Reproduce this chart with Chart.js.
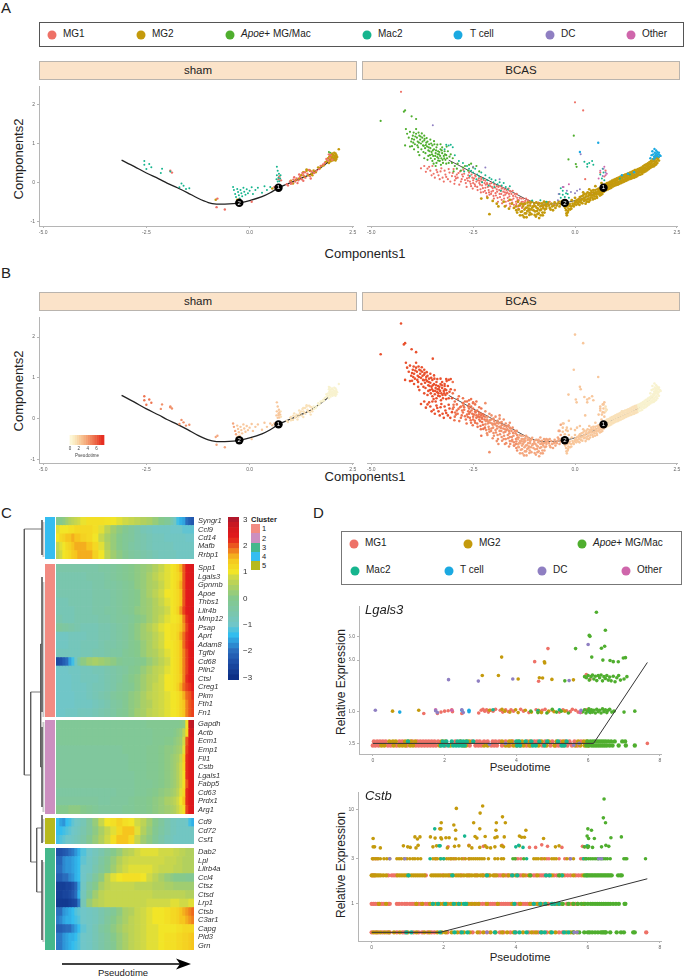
<!DOCTYPE html>
<html>
<head>
<meta charset="utf-8">
<script src="https://cdn.jsdelivr.net/npm/chart.js@4/dist/chart.umd.min.js"></script>
<style>
  html, body { margin: 0; padding: 0; background: #fff; }
  body { position: relative; width: 685px; height: 978px; overflow: hidden; font-family: "Liberation Sans", Arial, sans-serif; color: #222; }
  canvas { position: absolute; }
  .t { position: absolute; white-space: nowrap; line-height: 1; }
  .c { transform: translate(-50%, -50%); }
  .v { transform: translate(-50%, -50%) rotate(-90deg); }
  .strip { position: absolute; background: #fbe3c9; border: 1px solid #b9b4ae; box-sizing: border-box; text-align: center; font-size: 11.5px; }
  .box { position: absolute; border: 1px solid #555; box-sizing: border-box; }
  .dot { position: absolute; width: 9px; height: 9px; border-radius: 50%; transform: translate(-50%, -50%); }
  .side { position: absolute; left: 45px; width: 9.5px; }
  .sw { position: absolute; left: 251px; width: 9px; height: 9.3px; }
</style>
</head>
<body>
<div class="t" style="left:1px;top:0px;font-size:15px">A</div>
<div class="t" style="left:1px;top:265px;font-size:15px">B</div>
<div class="t" style="left:1px;top:505px;font-size:15px">C</div>
<div class="t" style="left:313px;top:505px;font-size:15px">D</div>
<div id="legendA" class="box" style="left:39px;top:22px;width:645px;height:25px"></div>
<div id="legendD" class="box" style="left:341px;top:531px;width:341px;height:54px;border-color:#777"></div>
<div class="strip" style="left:39px;top:61px;width:318px;height:19px;line-height:17px">sham</div>
<div class="strip" style="left:362px;top:61px;width:318px;height:19px;line-height:17px">BCAS</div>
<div class="strip" style="left:39px;top:292px;width:318px;height:19px;line-height:17px">sham</div>
<div class="strip" style="left:362px;top:292px;width:318px;height:19px;line-height:17px">BCAS</div>
<div class="t v" style="left:18px;top:159px;font-size:13px">Components2</div>
<div class="t c" style="left:365px;top:253px;font-size:13px">Components1</div>
<div class="t v" style="left:18px;top:391px;font-size:13px">Components2</div>
<div class="t c" style="left:365px;top:476px;font-size:13px">Components1</div>
<div class="t v" style="left:341px;top:682px;font-size:12px">Relative Expression</div>
<div class="t c" style="left:520px;top:768px;font-size:11.5px">Pseudotime</div>
<div class="t v" style="left:341px;top:865px;font-size:12px">Relative Expression</div>
<div class="t c" style="left:520px;top:958px;font-size:11.5px">Pseudotime</div>
<div class="t" style="left:365px;top:603px;font-size:13px;font-style:italic;z-index:3">Lgals3</div>
<div class="t" style="left:365px;top:789px;font-size:13px;font-style:italic;z-index:3">Cstb</div>
<div class="t" style="left:251px;top:516px;font-size:7.5px;font-weight:bold">Cluster</div>
<div class="sw" style="top:524px;background:#f28b82"></div><div class="t" style="left:262px;top:525px;font-size:7.5px">1</div>
<div class="sw" style="top:533.3px;background:#cc8fc0"></div><div class="t" style="left:262px;top:534.5px;font-size:7.5px">2</div>
<div class="sw" style="top:542.6px;background:#45b88c"></div><div class="t" style="left:262px;top:543.5px;font-size:7.5px">3</div>
<div class="sw" style="top:551.9px;background:#35bdf0"></div><div class="t" style="left:262px;top:553px;font-size:7.5px">4</div>
<div class="sw" style="top:561.2px;background:#b7b91c"></div><div class="t" style="left:262px;top:562px;font-size:7.5px">5</div>
<div class="side" style="top:517px;height:42.3px;background:#35bdf0"></div>
<div class="side" style="top:563.7px;height:153px;background:#f28b82"></div>
<div class="side" style="top:720.3px;height:93.7px;background:#cc8fc0"></div>
<div class="side" style="top:818.3px;height:25.7px;background:#b7b91c"></div>
<div class="side" style="top:848px;height:102px;background:#45b88c"></div>
<svg style="position:absolute;left:55px;top:955px" width="145" height="16"><line x1="7" y1="9" x2="125" y2="9" stroke="#000" stroke-width="1.4"/><path d="M121 3.5 L136 9 L121 14.5 L125 9 Z" fill="#000"/></svg>
<div class="t c" style="left:123px;top:973px;font-size:9.5px">Pseudotime</div>

<canvas id="aSham" style="left:29px;top:82px" width="329" height="154"></canvas>
<canvas id="aBcas" style="left:363px;top:82px" width="319" height="154"></canvas>
<canvas id="bSham" style="left:29px;top:313px" width="329" height="160"></canvas>
<canvas id="bBcas" style="left:363px;top:313px" width="319" height="160"></canvas>
<canvas id="pseudoLegend" style="left:66px;top:435px;z-index:2" width="42" height="23"></canvas>
<canvas id="dendro" style="left:20px;top:517px" width="25" height="433"></canvas>
<canvas id="heat4" style="left:56px;top:517px" width="183" height="42"></canvas>
<canvas id="heat1" style="left:56px;top:564px" width="183" height="153"></canvas>
<canvas id="heat2" style="left:56px;top:720px" width="183" height="94"></canvas>
<canvas id="heat5" style="left:56px;top:818px" width="183" height="26"></canvas>
<canvas id="heat3" style="left:56px;top:848px" width="183" height="102"></canvas>
<canvas id="colorBar" style="left:228px;top:517px" width="24" height="163"></canvas>
<canvas id="lgals3" style="left:349px;top:602px" width="316" height="162"></canvas>
<canvas id="cstb" style="left:348px;top:788px" width="317" height="163"></canvas>

<script>
// --- legend and colours ---
const typeNames = ['MG1', 'MG2', '<i>Apoe</i>+ MG/Mac', 'Mac2', 'T cell', 'DC', 'Other'];
const typeColors = ['#ee7167', '#c49a0c', '#4fae2e', '#16b58e', '#1ba9e1', '#8f7fc2', '#cf66ab'];

// --- trajectory (components 1 and 2) ---
const trajX = [-3.1, -2.8, -2.5, -2.2, -2, -1.75, -1.5, -1.25, -1, -.8, -.6, -.4, -.25, 0, .3, .5, .7, .9, 1.2, 1.5, 1.75, 1.9];
const trajY = [.57, .41, .24, .09, -.02, -.14, -.27, -.41, -.52, -.56, -.56, -.55, -.53, -.47, -.37, -.27, -.14, -.05, .08, .22, .4, .52];
const nodeX = [.7, -.25];
const nodeY = [-.14, -.53];
const nodeLabels = ['1', '2'];
const compXTicks = [-5, -2.5, 0, 2.5];
const compYTicks = [-1, 0, 1, 2];

// --- sham cells ---
const shamMac2 = [[-2.55,.55],[-2.55,.45],[-2.43,.47],[-2.38,.39],[-2.5,.34],[-2.12,.35],[-2.15,.24],[-1.92,.28],[-1.65,-.03],[-1.6,-.09],[-1.7,-.13],[-1.54,-.17],[-1.46,-.15],[-.4,-.12],[-.38,-.2],[-.35,-.3],[-.33,-.38],[-.3,-.17],[-.28,-.25],[-.26,-.33],[-.24,-.42],[-.22,-.2],[-.2,-.28],[-.18,-.36],[-.15,-.14],[-.13,-.24],[-.1,-.32],[-.07,-.18],[-.04,-.28],[0,-.22],[.05,-.13],[.08,-.3],[.14,-.2],[.2,-.14],[.3,-.27],[.36,-.1],[.42,-.2],[.5,-.12],[.66,.4],[.68,.3],[.71,.22],[.66,.18],[.7,.12],[.74,.1],[.65,.08],[.72,.03],[.68,.02],[.75,.18]];
const shamMG1 = [[-1.92,.3],[-1.88,.25],[-.78,-.42],[-.8,-.64],[-.6,-.7],[-.25,-.43],[.05,-.5],[.6,-.12],[.72,.15],[.7,.08],[.76,.05],[.9,-.05],[.93,-.08],[.98,.02],[1.02,-.02],[1.06,.07],[1.1,.02],[1.14,.1],[1.18,.05],[1.22,.14],[1.26,.08],[1.3,.18],[1.35,.12],[1.4,.22],[1.46,.16],[1.5,.28],[1.56,.24],[1.62,.3],[1.68,.34],[1.72,.42],[1.78,.46],[1.82,.5],[1.86,.6],[1.9,.56],[1.94,.63],[1.96,.7],[2,.58],[1.92,.72],[1.2,.2],[1.28,.24],[1.34,.26],[1.44,.32],[1.08,.13],[1.0,-.04],[1.16,-.02],[1.3,.04],[1.48,.1]];
const shamMG2 = [[-.82,-.45],[-.3,-.45],[.55,-.16],[1,.04],[1.05,-.03],[1.12,.06],[1.2,.1],[1.25,.18],[1.32,.15],[1.38,.3],[1.42,.18],[1.5,.22],[1.55,.3],[1.6,.26],[1.66,.38],[1.7,.36],[1.75,.42],[1.8,.44],[1.84,.52],[1.88,.55],[1.9,.62],[1.92,.5],[1.94,.58],[1.96,.54],[1.97,.64],[1.98,.6],[1.99,.72],[2,.66],[2.01,.56],[2.02,.62],[2.03,.7],[2.04,.64],[2.05,.58],[2.06,.68],[2.07,.62],[2.08,.74],[2.09,.66],[2.1,.6],[2.1,.7],[2.05,.76],[2,.74],[1.95,.68],[2.12,.65],[1.93,.66],[2.08,.56],[2.16,.85],[1.38,.33],[1.46,.3],[1.52,.18],[1.3,.26]];
const shamApoe = [[1.95,.76],[1.92,.78]];

// --- BCAS cells ---
const bcasApoe = [[-4.77,1.58],[-4.2,1.82],[-4.17,1.85],[-4.01,1.7],[-3.9,1.63],[-4.15,1.37],[-3.9,1.37],[-4.17,.95],[-4,.93],[-4.12,1.25],[-4.08,1.15],[-4.05,1.3],[-4.02,1.05],[-3.98,1.2],[-3.95,1.1],[-3.93,.98],[-3.9,1.25],[-3.88,1.15],[-3.86,1.05],[-3.85,.9],[-3.82,1.2],[-3.8,1.1],[-3.78,1],[-3.77,.85],[-3.75,1.15],[-3.73,.95],[-3.7,1.08],[-3.68,.88],[-3.67,.75],[-3.65,1.02],[-3.63,.92],[-3.6,.82],[-3.58,.98],[-3.56,.7],[-3.55,.88],[-3.52,.78],[-3.5,.95],[-3.48,.68],[-3.46,.85],[-3.44,.6],[-3.42,.75],[-3.4,.9],[-3.38,.65],[-3.36,.8],[-3.34,.72],[-3.32,.55],[-3.3,.85],[-3.28,.62],[-3.26,.75],[-3.24,.5],[-3.22,.68],[-3.2,.8],[-3.18,.58],[-3.16,.7],[-3.14,.62],[-3.1,.5],[-3.05,.72],[-3,.62],[-3.42,.42],[-3.5,.55],[-3.62,.58],[-3.7,.62],[-3.55,1.1],[-3.7,1.2],[-3.85,.78],[-3.95,.85],[-4.05,.92],[-3.6,.68],[-3.4,.5],[-3.3,.98],[-3.15,.92],[-4,1.12],[-3.97,1.02],[-3.92,1.18],[-3.87,.95],[-3.83,1.02],[-3.79,1.18],[-3.74,1.05],[-3.71,.94],[-3.69,1.12],[-3.66,.96],[-3.62,1.05],[-3.59,.9],[-3.57,.8],[-3.53,1],[-3.51,.72],[-3.49,.82],[-3.45,.98],[-3.43,.68],[-3.41,.82],[-3.37,.72],[-3.35,.62],[-3.33,.78],[-3.31,.68],[-3.27,.82],[-3.25,.58],[-3.21,.62],[-3.19,.72],[-2.6,.45],[-2.55,.48],[-2.5,.38],[-2.42,.42],[-2.35,.28],[-2.8,.3],[-2.7,.42],[-2.9,.35],[-.16,.59],[-.03,1.2],[.04,.4],[.02,.47],[-3.96,1.28],[-3.84,1.28],[-3.76,1.26],[-3.64,1.14],[-3.46,1.06],[-3.38,.97],[-3.26,.9],[-3.12,.8],[-3.08,.66],[-3.72,.78],[-3.82,.7],[-3.54,.62],[-3.47,.48],[-3.36,.56],[-3.29,.45],[-3.16,.48],[-3.02,.5],[-2.95,.42],[-2.98,.28],[-2.88,.48],[-2.75,.38],[-2.62,.3]];
const bcasMac2 = [[-3.16,.97],[-3.1,.95],[-3.05,.97],[-3,.9],[-3.2,.85],[-2.95,.7],[-2.85,.55],[-2.75,.5],[-2.65,.42],[-2.6,.35],[-2.55,.3],[-2.5,.25],[-2.45,.35],[-2.4,.2],[-2.35,.15],[-2.3,.25],[-2.25,.1],[-2.2,.18],[-2.15,.05],[-2.1,.12],[-2.05,.08],[-2,0],[-1.95,.05],[-1.9,-.05],[-1.85,0],[-1.8,-.08],[-1.75,-.02],[-1.7,-.12],[-1.65,-.18],[-1.6,-.1],[-.35,-.4],[-.3,-.32],[-.3,-.22],[-.25,-.38],[-.22,-.28],[-.18,-.3],[-.15,-.4],[-.35,-.15],[-.38,-.3],[.23,.53],[.3,.47],[.35,.5],[.42,.55],[.45,.45],[.3,.4],[.62,.2],[.68,.35],[.7,.25],[.66,.1],[.72,.05],[-1.05,-.47],[-.85,-.46],[-.7,-.5],[1.1,.1],[1.35,.2],[-2.72,.28],[-2.58,.16],[-2.42,.08],[-2.28,.0],[-2.12,-.08],[-1.98,-.12],[-1.82,-.22]];
const bcasMG1 = [[-4.27,2.33],[0,2.06],[.2,1.85],[-3.7,.42],[-3.62,.35],[-3.55,.3],[-3.5,.42],[-3.47,.22],[-3.4,.32],[-3.35,.18],[-3.3,.28],[-3.25,.12],[-3.2,.3],[-3.18,.2],[-3.12,.08],[-3.08,.25],[-3.02,.16],[-2.98,.34],[-2.95,.05],[-2.9,.2],[-2.88,.12],[-2.82,.28],[-2.8,.02],[-2.75,.15],[-2.72,.22],[-2.68,-.02],[-2.65,.1],[-2.62,.18],[-2.58,.02],[-2.55,-.1],[-2.52,.12],[-2.5,.05],[-2.46,-.05],[-2.44,.15],[-2.4,-.12],[-2.38,.05],[-2.35,-.02],[-2.32,-.18],[-2.3,.08],[-2.28,-.08],[-2.25,-.25],[-2.22,-.02],[-2.2,-.14],[-2.18,-.28],[-2.15,-.05],[-2.12,-.2],[-2.1,-.32],[-2.08,-.1],[-2.05,-.24],[-2.02,-.15],[-2,-.35],[-1.98,-.06],[-1.95,-.28],[-1.92,-.18],[-1.9,-.4],[-1.88,-.12],[-1.85,-.3],[-1.82,-.22],[-1.8,-.45],[-1.78,-.15],[-1.75,-.34],[-1.72,-.26],[-1.7,-.5],[-1.68,-.2],[-1.65,-.4],[-1.62,-.3],[-1.6,-.55],[-1.58,-.24],[-1.55,-.45],[-1.52,-.35],[-1.5,-.58],[-1.48,-.3],[-1.45,-.5],[-1.42,-.4],[-1.4,-.62],[-1.38,-.46],[-1.35,-.55],[-1.32,-.42],[-1.3,-.66],[-1.28,-.5],[-1.25,-.58],[-1.22,-.48],[-2.6,.25],[-2.45,.18],[-2.3,.12],[-2.2,.04],[-2.05,-.02],[-1.92,-.1],[-1.8,-.16],[-1.68,-.28],[-1.6,-.22],[-1.1,-.55],[-1,-.6],[-.9,-.52],[-.8,-.62],[-.62,-.5],[-.5,-.58],[.1,-.42],[.4,-.3],[.6,-.18],[.85,-.08],[1.05,-.03],[1.25,.06],[1.45,.14],[1.62,.28],[1.8,.38],[.72,.15],[.75,.3],[.62,.25],[.25,.08],
  [-3.78,.36],[-3.66,.27],[-3.58,.4],[-3.52,.18],[-3.44,.12],[-3.38,.26],[-3.32,.08],[-3.28,.36],[-3.22,.02],[-3.16,.14],[-3.1,.34],[-3.06,.02],[-3,.24],[-2.96,-.04],[-2.92,.1],[-2.86,.24],[-2.84,-.06],[-2.78,.08],[-2.74,.32],[-2.7,.06],[-2.66,-.12],[-2.63,.04],[-2.6,.12],[-2.56,-.04],[-2.54,.2],[-2.51,-.16],[-2.48,.1],[-2.45,-.1],[-2.42,.02],[-2.39,-.2],[-2.36,.1],[-2.33,-.06],[-2.31,-.26],[-2.29,.02],[-2.26,-.15],[-2.24,.06],[-2.21,-.22],[-2.19,-.06],[-2.16,-.36],[-2.14,-.12],[-2.11,-.26],[-2.09,-.04],[-2.06,-.3],[-2.04,-.12],[-2.01,-.22],[-1.99,-.42],[-1.96,-.14],[-1.94,-.34],[-1.91,-.24],[-1.89,-.5],[-1.86,-.2],[-1.84,-.38],[-1.81,-.3],[-1.79,-.54],[-1.76,-.24],[-1.74,-.42],[-1.71,-.32],[-1.69,-.6],[-1.66,-.26],[-1.64,-.48],[-1.61,-.36],[-1.59,-.62],[-1.56,-.3],[-1.54,-.52],[-1.51,-.42],[-1.49,-.66],[-1.46,-.36],[-1.44,-.56],[-1.41,-.46],[-1.39,-.68],[-1.36,-.4],[-1.34,-.6],[-1.31,-.5],[-1.27,-.42],[-1.24,-.52],[-1.2,-.42],[-1.16,-.46],[-1.12,-.5],[-2.94,.15],[-2.77,.2],[-2.5,-.02],[-2.34,.04],[-2.16,-.02],[-1.83,-.1],[-1.73,-.18],[-1.63,-.16],[-1.53,-.22],[-1.43,-.3]];
const bcasMG2 = [[-2.1,-.82],[-1.88,-.62],[-1.5,-.66],[-1.75,-.5],[-1.6,-.45],[-1.45,-.62],[-1.42,-.78],[-1.4,-.5],[-1.38,-.7],[-1.35,-.85],[-1.32,-.55],[-1.3,-.75],[-1.28,-.62],[-1.25,-.9],[-1.24,-.7],[-1.22,-.55],[-1.2,-.8],[-1.18,-.65],[-1.16,-.52],[-1.14,-.72],[-1.12,-.84],[-1.1,-.6],[-1.08,-.7],[-1.06,-.5],[-1.03,-.62],[-1,-.55],[-.98,-.75],[-.96,-.88],[-.94,-.66],[-.92,-.82],[-.9,-.58],[-.88,-.92],[-.86,-.72],[-.84,-.85],[-.82,-.6],[-.8,-.78],[-.78,-.66],[-.76,-.5],[-.74,-.7],[-.72,-.58],[-.7,-.62],[-.66,-.52],[-.62,-.66],[-.58,-.55],[-.54,-.72],[-.5,-.52],[-.45,-.6],[-.4,-.5],[-.35,-.56],[-.3,-.48],[-.26,-.62],[-.22,-.72],[-.2,-.85],[-.18,-.78],[-.16,-.68],[-.14,-.6],[-.12,-.7],[-.1,-.62],[-.06,-.55],[-.03,-.62],[0,-.52],[.03,-.58],[.06,-.45],[.08,-.56],[.1,-.5],[.12,-.38],[.15,-.52],[.17,-.44],[.2,-.34],[.22,-.48],[.24,-.4],[.26,-.55],[.28,-.3],[.3,-.44],[.32,-.36],[.34,-.5],[.36,-.28],[.38,-.4],[.4,-.22],[.42,-.34],[.44,-.44],[.46,-.26],[.48,-.36],[.5,-.2],[.52,-.3],[.54,-.4],[.56,-.24],[.58,-.16],[.6,-.28],[.62,-.2],[.64,-.32],[.66,-.14],[.68,-.24],[.7,-.18],[.72,-.1],[.74,-.16],[.76,-.09],[.78,-.13],[.8,-.06],[.82,-.12],[.84,-.05],[.86,-.1],[.88,-.02],[.9,-.08],[.92,-.01],[.94,-.05],[.96,.02],[.98,-.03],[1,.04],[1.02,-.01],[1.04,.06],[1.06,0],[1.08,.08],[1.1,.02],[1.12,.09],[1.14,.04],[1.16,.11],[1.18,.06],[1.2,.13],[1.22,.07],[1.24,.15],[1.26,.1],[1.28,.16],[1.3,.11],[1.32,.18],[1.34,.13],[1.36,.2],[1.38,.15],[1.4,.22],[1.42,.17],[1.44,.24],[1.46,.18],[1.48,.26],[1.5,.2],[1.52,.27],[1.54,.22],[1.56,.29],[1.58,.25],[1.6,.31],[1.62,.26],[1.64,.33],[1.66,.28],[1.68,.36],[1.7,.31],[1.72,.38],[1.74,.34],[1.76,.41],[1.78,.36],[1.8,.44],[1.82,.39],[1.84,.47],[1.86,.42],[1.88,.5],[1.9,.45],[1.92,.54],[1.94,.48],[1.95,.58],[1.97,.52],[1.98,.62],[2,.55],[2.01,.66],[2.03,.6],[2.05,.64],[2.06,.56],[1.99,.46],[1.93,.41],[.35,-.18],[.5,-.1],[.2,-.26],[0,-.4],[-.08,-.46],[.65,-.02],
  [-2.3,-.42],[-2.15,-.4],[-2.02,-.48],[-1.92,-.55],[-1.72,-.62],[-1.62,-.68],[-1.55,-.55],[-1.44,-.72],[-1.37,-.6],[-1.33,-.76],[-1.29,-.85],[-1.27,-.56],[-1.23,-.8],[-1.21,-.66],[-1.19,-.9],[-1.17,-.74],[-1.15,-.6],[-1.13,-.68],[-1.11,-.78],[-1.09,-.52],[-1.07,-.82],[-1.05,-.65],[-1.02,-.72],[-.99,-.84],[-.97,-.62],[-.95,-.52],[-.93,-.74],[-.91,-.68],[-.89,-.8],[-.87,-.54],[-.85,-.62],[-.83,-.7],[-.81,-.54],[-.79,-.85],[-.77,-.6],[-.75,-.78],[-.73,-.52],[-.71,-.68],[-.68,-.56],[-.64,-.6],[-.6,-.7],[-.56,-.62],[-.52,-.6],[-.48,-.66],[-.43,-.55],[-.38,-.62],[-.33,-.5],[-.24,-.66],[-.21,-.8],[-.19,-.62],[-.17,-.74],[-.13,-.56],[-.09,-.68],[-.05,-.6],[-.01,-.56],[.02,-.48],[.05,-.52],[.09,-.44],[.11,-.58],[.14,-.46],[.16,-.36],[.18,-.54],[.21,-.42],[.23,-.3],[.25,-.46],[.27,-.36],[.29,-.5],[.31,-.26],[.33,-.42],[.35,-.32],[.37,-.46],[.39,-.34],[.41,-.26],[.43,-.4],[.45,-.2],[.47,-.32],[.49,-.42],[.51,-.26],[.53,-.36],[.55,-.18],[.57,-.3],[.59,-.22],[.61,-.34],[.63,-.26],[.65,-.2],[.67,-.3],[.69,-.12],[.71,-.24],[.73,-.2],[.75,-.05],[.77,-.2],[.79,-.02],[.81,-.18],[.83,-.01],[.85,-.16],[.87,.02],[.89,-.14],[.91,.04],[.93,-.11],[.95,.06],[.97,-.09],[.99,.08],[1.01,-.07],[1.03,.1],[1.05,-.06],[1.07,.12],[1.09,-.04],[1.11,.14],[1.13,-.02],[1.15,.16],[1.17,0],[1.19,.18],[1.21,.02],[1.23,.2],[1.25,.04],[1.27,.21],[1.29,.06],[1.31,.23],[1.33,.08],[1.35,.25],[1.37,.09],[1.39,.27],[1.41,.11],[1.43,.29],[1.45,.12],[1.47,.31],[1.49,.14],[1.51,.32],[1.53,.16],[1.55,.34],[1.57,.19],[1.59,.36],[1.61,.2],[1.63,.38],[1.65,.22],[1.67,.41],[1.69,.26],[1.71,.44],[1.73,.28],[1.75,.46],[1.77,.31],[1.79,.49],[1.81,.34],[1.83,.52],[1.85,.37],[1.87,.55],[1.89,.4],[1.91,.59],[1.96,.44],[1.98,.68],[2.02,.5]];
const bcasTCell = [[1.85,.62],[1.88,.7],[1.9,.8],[1.92,.72],[1.94,.66],[1.95,.86],[1.96,.76],[1.98,.7],[1.99,.82],[2,.74],[2.01,.68],[2.02,.78],[2.04,.72],[2.05,.66],[2.06,.76],[2.08,.7],[2.1,.68],[1.93,.6],[1.97,.64],[1.15,.18],[1.3,.22],[1.45,.26],[.57,1.02],[.12,.78]];
const bcasDC = [[-3.49,1.47],[-2.5,.4],[-.4,-.3],[-.3,-.12],[-.2,-.22],[-.1,-.25],[0,-.28],[.05,-.22],[.12,-.18],[.7,.35],[.75,.25],[.68,.16],[.14,.72],[-2.2,.38],[-1.85,.08],[-.42,-.46]];
const bcasOther = [[.72,.4],[.75,.18],[.62,.3],[.58,.1],[.78,.22],[-.28,-.12],[-.15,-.05]];

// --- pseudotime colouring of panel B (upper bound of x for each bin) ---
const pseudoBreaks = [-3, -2.2, -1.4, -.3, .75, 1.55];
const pseudoColors = ['#e9512e', '#ee7450', '#f0906a', '#f4a67e', '#f8c79c', '#f9e1b9', '#f8f2cf'];
const pseudoLegendTicks = [0, 2, 4, 6];
const pseudoLegendLevels = [0, .5, 1, 1.5, 2, 2.5, 3, 3.5, 4, 4.5, 5, 5.5, 6, 6.5, 7, 7.7];
const pseudoLegendColors = ['#fdf6d6', '#fbeec6', '#fae3b8', '#f9d7a9', '#f8cb9b', '#f7be8e', '#f5b080', '#f4a274', '#f29368', '#f0845c', '#ee7450', '#ec6344', '#ea5238', '#e8402c', '#e62e22'];

// --- heatmap: colour key ---
const heatStops = [-3.1, -3, -2.4, -2, -1.7, -1.4, -1, -.5, 0, .5, .8, 1, 1.5, 1.9, 2.3, 2.7, 3, 3.1];
const heatStopColors = ['#0a2a80', '#0c2f86', '#1f50a8', '#2a6dbd', '#2e95d8', '#33bdee', '#70c6c8', '#7cc6a8', '#85c98c', '#b2d05e', '#d0d946', '#f2e527', '#f6c51e', '#ee6a1e', '#e31a1c', '#d3181d', '#b2182b', '#a81c2a'];
const colorBarTicks = [-3, -2, -1, 0, 1, 2, 3];
const colorBarLevels = [-3.1, -2.9, -2.7, -2.5, -2.3, -2.1, -1.9, -1.7, -1.5, -1.3, -1.1, -.9, -.7, -.5, -.3, -.1, .1, .3, .5, .7, .9, 1.1, 1.3, 1.5, 1.7, 1.9, 2.1, 2.3, 2.5, 2.7, 2.9, 3.1];

// width of each heatmap column
const heatColumns = [3, 3, 3, 3, 3, 3, 3, 3, 6, 6, 6, 6, 6, 6, 6, 6, 6, 6, 6, 6, 6, 6, 6, 3, 3, 3, 3, 3, 3, 3, 3];

const cluster4Genes = ['Syngr1', 'Ccl9', 'Cd14', 'Mafb', 'Rrbp1'];
const cluster4Rows = [
  [0,0,.1,.3,.5,.6,.7,.8, .95,1.1,1.1,1.1,1.05,1,.9,.8,.7,.6,.5,.4,.2,0,-.2, -.6,-.9,-1.3,-1.5,-1.6,-2,-2.2,-2.3],
  [.9,1,1,1,1.1,1.1,1.2,1.2, 1.2,1.2,1.1,.9,.6,.3,.1,-.1,-.3,-.5,-.7,-.8,-.9,-.9,-.9, -1,-1,-1,-1,-1.1,-1.1,-1.1,-1.1],
  [1,1.2,1.3,1.5,1.5,1.6,1.5,1.5, 1.3,1.2,1,.7,.4,.2,0,-.2,-.3,-.5,-.6,-.7,-.8,-.8,-.9, -.9,-.9,-.9,-.9,-.9,-1,-1,-1],
  [.7,.9,1,1.2,1.3,1.5,1.6,1.6, 1.6,1.5,1.2,.9,.5,.2,0,-.2,-.4,-.5,-.6,-.7,-.8,-.8,-.8, -.8,-.9,-.9,-.9,-.9,-.9,-.9,-.9],
  [.6,.8,1,1.1,1.2,1.4,1.5,1.6, 1.6,1.6,1.3,1,.6,.3,.1,-.1,-.3,-.4,-.5,-.6,-.7,-.8,-.8, -.8,-.8,-.9,-.9,-.9,-.9,-.9,-.9]
];
const cluster1Genes = ['Spp1', 'Lgals3', 'Gpnmb', 'Apoe', 'Thbs1', 'Lilr4b', 'Mmp12', 'Psap', 'Aprt', 'Adam8', 'Tgfbi', 'Cd68', 'Plin2', 'Ctsl', 'Creg1', 'Pkm', 'Fth1', 'Fn1'];
const cluster1Rows = [
  [-.5,-.5,-.5,-.5,-.5,-.5,-.5,-.5, -.5,-.5,-.5,-.4,-.4,-.3,-.2,-.1,0,.1,.2,.3,.5,.7,.9, 1,1.1,1.3,1.6,2,2.3,2.4,2.5],
  [-.6,-.6,-.6,-.6,-.6,-.6,-.6,-.6, -.6,-.5,-.5,-.5,-.4,-.3,-.2,-.1,0,.1,.2,.4,.6,.8,.9, 1,1.1,1.2,1.5,2,2.3,2.4,2.5],
  [-.6,-.6,-.6,-.6,-.6,-.6,-.6,-.6, -.6,-.6,-.5,-.5,-.4,-.4,-.3,-.2,-.1,.1,.2,.4,.5,.7,.9, 1,1.1,1.3,1.6,2,2.3,2.4,2.4],
  [-.6,-.6,-.6,-.6,-.6,-.6,-.6,-.6, -.6,-.6,-.5,-.5,-.5,-.4,-.3,-.2,-.1,0,.2,.4,.6,.8,1, 1,1.1,1.2,1.5,2,2.3,2.4,2.5],
  [-.7,-.7,-.7,-.7,-.6,-.6,-.6,-.6, -.6,-.6,-.5,-.5,-.5,-.4,-.3,-.2,-.1,0,.2,.3,.5,.7,.9, 1,1.1,1.2,1.5,2,2.3,2.4,2.4],
  [-.7,-.7,-.7,-.7,-.7,-.7,-.6,-.6, -.6,-.6,-.5,-.5,-.4,-.4,-.3,-.2,-.1,.1,.2,.3,.5,.6,.8, 1,1.1,1.3,1.7,2.1,2.3,2.4,2.5],
  [-.6,-.6,-.7,-.7,-.7,-.7,-.6,-.6, -.6,-.6,-.6,-.5,-.5,-.4,-.3,-.3,-.2,0,.1,.3,.5,.7,.9, 1,1,1.1,1.3,1.8,2.2,2.4,2.5],
  [-.3,-.3,-.4,-.4,-.5,-.5,-.6,-.6, -.7,-.7,-.7,-.6,-.6,-.5,-.4,-.3,-.1,.1,.3,.5,.7,.9,1, 1.1,1.1,1.2,1.4,1.7,2.1,2.3,2.4],
  [-.9,-.9,-.9,-.9,-.8,-.8,-.8,-.8, -.8,-.7,-.7,-.6,-.6,-.5,-.4,-.3,-.1,.1,.3,.4,.6,.8,1, 1.1,1.1,1.3,1.6,1.9,2.2,2.3,2.4],
  [-.9,-.9,-.9,-.9,-.8,-.8,-.8,-.8, -.7,-.7,-.7,-.6,-.5,-.5,-.4,-.3,-.1,0,.2,.4,.6,.8,1, 1,1.1,1.2,1.5,1.9,2.2,2.3,2.4],
  [-.8,-.8,-.8,-.8,-.8,-.8,-.8,-.8, -.7,-.7,-.6,-.6,-.5,-.4,-.4,-.2,-.1,0,.2,.4,.5,.7,.9, 1,1.1,1.2,1.5,1.8,2.1,2.3,2.4],
  [-2.5,-2.4,-2.2,-2,-1.6,-1.3,-.9,-.4, .1,.3,.4,.3,.2,.1,-.1,-.2,-.2,-.1,0,.2,.4,.6,.8, 1,1.1,1.2,1.5,1.8,2.1,2.3,2.4],
  [-1,-1,-1,-1,-.9,-.9,-.9,-.9, -.8,-.8,-.7,-.7,-.6,-.5,-.4,-.3,-.1,0,.2,.4,.6,.7,.9, 1,1.1,1.2,1.5,1.8,2.1,2.3,2.4],
  [-1,-1,-1,-1,-1,-.9,-.9,-.9, -.8,-.8,-.8,-.7,-.6,-.5,-.4,-.2,0,.1,.3,.5,.6,.8,1, 1,1.1,1.2,1.4,1.8,2.2,2.3,2.4],
  [-1,-1,-1,-1,-1,-.9,-.9,-.9, -.9,-.8,-.7,-.7,-.6,-.5,-.3,-.2,-.1,.1,.3,.5,.7,.8,1, 1,1.1,1.3,1.6,1.9,2.1,2.2,2.3],
  [-1,-1,-1,-1,-1,-1,-.9,-.9, -.9,-.8,-.7,-.6,-.5,-.3,-.2,-.1,.1,.2,.4,.6,.7,.8,.9, 1,1,1.1,1.3,1.6,1.9,2,2.2],
  [-1,-1,-1,-1,-1,-1,-.9,-.9, -.9,-.9,-.8,-.7,-.6,-.4,-.3,-.1,.1,.2,.4,.5,.7,.8,.9, 1,1,1.1,1.3,1.5,1.8,2,2.1],
  [-1,-1,-1,-.9,-.9,-.9,-.9,-.8, -.8,-.8,-.7,-.6,-.5,-.4,-.2,-.1,.1,.3,.4,.6,.7,.8,.9, 1,1,1.1,1.3,1.5,1.8,2,2.1]
];
const cluster3Genes = ['Gapdh', 'Actb', 'Ecm1', 'Emp1', 'Fll1', 'Cstb', 'Lgals1', 'Fabp5', 'Cd63', 'Prdx1', 'Arg1'];
const cluster3Rows = [
  [-.2,-.2,-.2,-.2,-.2,-.2,-.2,-.2, -.2,-.2,-.2,-.2,-.2,-.2,-.2,-.2,-.2,-.2,-.2,-.1,-.1,-.1,-.1, -.1,-.1,-.1,0,.1,1.1,2.8,2.9],
  [-.2,-.2,-.2,-.2,-.2,-.2,-.2,-.2, -.2,-.2,-.2,-.2,-.2,-.2,-.2,-.2,-.2,-.2,-.2,-.2,-.1,-.1,-.1, -.1,0,.1,.2,.6,1.2,2.5,2.7],
  [-.2,-.2,-.2,-.2,-.2,-.2,-.2,-.2, -.2,-.2,-.2,-.2,-.2,-.2,-.2,-.2,-.2,-.2,-.2,-.2,-.1,-.1,0, 0,.1,.2,.3,.8,2,2.4,2.5],
  [-.3,-.3,-.3,-.3,-.3,-.3,-.3,-.3, -.3,-.3,-.3,-.3,-.3,-.3,-.3,-.2,-.2,-.2,-.2,-.1,-.1,0,.1, .1,.2,.3,.4,.9,2.1,2.4,2.5],
  [-.3,-.3,-.3,-.3,-.3,-.3,-.3,-.3, -.3,-.3,-.3,-.3,-.3,-.3,-.3,-.3,-.2,-.2,-.2,-.1,-.1,0,.1, .2,.3,.4,.7,1.3,2.2,2.4,2.5],
  [-.3,-.3,-.3,-.3,-.3,-.3,-.3,-.3, -.3,-.3,-.3,-.3,-.3,-.3,-.3,-.3,-.2,-.2,-.2,-.1,-.1,0,.1, .2,.3,.5,.8,1.2,2.2,2.4,2.5],
  [-.3,-.3,-.3,-.3,-.3,-.3,-.3,-.3, -.3,-.3,-.3,-.3,-.3,-.3,-.3,-.3,-.3,-.2,-.2,-.1,-.1,0,.1, .2,.3,.5,.8,1.1,2.2,2.4,2.5],
  [-.3,-.3,-.3,-.3,-.3,-.3,-.3,-.3, -.3,-.3,-.3,-.3,-.3,-.3,-.3,-.3,-.3,-.2,-.2,-.2,-.1,0,.1, .2,.3,.5,.8,1.1,2,2.4,2.5],
  [-.4,-.4,-.4,-.4,-.4,-.4,-.4,-.4, -.4,-.4,-.4,-.4,-.4,-.4,-.3,-.3,-.3,-.2,-.2,-.1,0,.1,.2, .3,.4,.6,.9,1.2,2.2,2.4,2.5],
  [-.3,-.3,-.3,-.3,-.3,-.3,-.3,-.3, -.3,-.3,-.3,-.4,-.4,-.3,-.3,-.3,-.2,-.1,-.1,0,.1,.2,.4, .5,.6,.8,1,1.5,2.2,2.4,2.5],
  [0,0,0,0,.1,.1,.1,.1, 0,-.1,-.2,-.3,-.3,-.3,-.3,-.2,-.2,-.1,-.1,0,.1,.2,.3, .4,.5,.7,.9,1.1,2.1,2.4,2.5]
];
const cluster5Genes = ['Cd9', 'Cd72', 'Csf1'];
const cluster5Rows = [
  [-1.4,-1.6,-1.7,-1.4,-1.3,-1.1,-1,-.9, -.7,-.3,.2,.7,1,1.1,1.3,1.1,1,.8,.6,.3,0,-.3,-.6, -.8,-.8,-.9,-.9,-.9,-1,-1.3,-1.5],
  [-1.4,-1.4,-1.3,-1.2,-1.1,-1,-.9,-.8, -.6,-.3,.1,.4,.7,.9,1.2,1.5,1.5,.9,.5,.2,-.1,-.4,-.6, -.8,-.8,-.9,-.9,-.9,-.9,-.9,-.9],
  [-1.3,-1.2,-1.1,-1,-1,-.9,-.8,-.7, -.5,-.1,.2,.5,.8,1.1,1.5,1.5,1.2,.7,.3,.1,-.2,-.5,-.7, -.8,-.9,-.9,-.9,-.9,-.9,-.9,-.9]
];
const cluster2Genes = ['Dab2', 'Lpl', 'Lilrb4a', 'Ccl4', 'Ctsz', 'Ctsd', 'Lrp1', 'Ctsb', 'C3ar1', 'Capg', 'Pld3', 'Grn'];
const cluster2Rows = [
  [-2.4,-2.4,-2.3,-2.2,-2,-1.9,-1.7,-1.5, -1.2,-1,-.8,-.6,-.3,0,.2,.5,.6,.8,.9,.9,.9,.8,.8, .8,.7,.7,.6,.6,.5,.5,.5],
  [-2.1,-2.1,-1.8,-1.7,-1.7,-1.6,-1.5,-1.4, -1.1,-.9,-.7,-.4,-.1,.2,.5,.7,.8,.8,.8,.8,.8,.8,.7, .7,.7,.6,.6,.5,.5,.5,.5],
  [-2,-2,-1.8,-1.7,-1.7,-1.6,-1.5,-1.4, -1,-.9,-.6,-.3,0,.3,.6,.8,.9,.9,.9,.9,.8,.7,.7, .7,.6,.6,.6,.5,.5,.5,.5],
  [-2.2,-2.2,-2,-2,-1.8,-1.7,-1.5,-1.4, -1,-.7,-.3,.1,.6,.9,1,1.1,1.1,1.1,1,.8,.6,.4,.2, .1,0,0,0,0,-.1,-.1,-.1],
  [-2.7,-2.7,-2.7,-2.6,-2.6,-2.4,-2.1,-1.6, -.9,-.4,0,.4,.6,.7,.7,.7,.7,.6,.6,.6,.5,.5,.4, .4,.3,.3,.3,.3,.3,.3,.3],
  [-2.7,-2.7,-2.6,-2.6,-2.5,-2.3,-2,-1.5, -.8,-.2,.3,.6,.7,.7,.7,.7,.7,.7,.7,.7,.6,.6,.6, .6,.6,.6,.6,.6,.5,.5,.5],
  [-2.8,-2.8,-2.8,-2.8,-2.7,-2.6,-2.5,-1.9, -.7,.2,.5,.6,.7,.7,.7,.7,.7,.7,.7,.8,.8,.8,.8, .9,.9,.9,.8,.8,.8,.9,.9],
  [-2,-2,-1.7,-1.6,-1.5,-1.4,-1.2,-1.1, -1,-.9,-.8,-.6,-.4,-.2,.1,.4,.5,.7,.8,.9,1,1,1.1, 1.2,1.2,1.3,1.5,1.6,1.7,1.8,1.9],
  [-1.9,-1.8,-1.6,-1.5,-1.5,-1.4,-1.3,-1.2, -1,-.9,-.8,-.6,-.3,0,.2,.4,.6,.7,.8,.9,1,1,1.1, 1.2,1.2,1.3,1.5,1.5,1.6,1.7,1.8],
  [-2.2,-2.2,-2.1,-2,-2,-1.8,-1.6,-1.4, -1.1,-.9,-.7,-.4,-.2,.1,.3,.5,.6,.7,.8,.9,.9,1,1, 1,1,1.1,1.1,1.2,1.2,1.2,1.2],
  [-1.9,-1.9,-1.7,-1.6,-1.5,-1.5,-1.4,-1.2, -1,-.9,-.7,-.5,-.3,0,.2,.4,.6,.7,.8,.9,.9,1,1.1, 1.1,1.1,1.2,1.2,1.3,1.3,1.4,1.5],
  [-1.9,-1.9,-1.7,-1.6,-1.5,-1.4,-1.3,-1.2, -1,-.9,-.7,-.5,-.3,-.1,.2,.4,.6,.7,.8,.9,.9,1,1.1, 1.1,1.1,1.2,1.2,1.3,1.3,1.4,1.5]
];

// dendrogram: merge height and position down the heatmap, broken by nulls
const dendroDark = [[20.7,12],[3,12],[3,null],[3,3],[3,38],[3,null],[20.7,12],[20.7,258],[20.7,null],[20.7,258],[14.3,258],[14.3,null],[14.3,175],[14.3,345],[14.3,null],[14.3,175],[4.3,175],[4.3,null],[4.3,127],[4.3,250],[4.3,null],[14.3,345],[8.3,345],[8.3,null],[8.3,311],[8.3,375],[8.3,null],[8.3,311],[3,311],[3,null],[3,298],[3,326],[3,null],[8.3,375],[3,375],[3,null],[3,343],[3,423],[3,null],[4.3,127],[3,127],[3,null],[3,60],[3,195],[3,null],[4.3,250],[3,250],[3,null],[3,210],[3,290]];
const dendroLight = [[1.6,5],[1.6,40],[1.6,null],[1.6,65],[1.6,200],[1.6,null],[1.6,205],[1.6,295],[1.6,null],[1.6,302],[1.6,325],[1.6,null],[1.6,345],[1.6,425]];

// --- panel D: Lgals3, low band (two jitter rows) ---
const lgalsLowLevels = [.478, .522];
const lgalsLowMG1A = [0,.07,.16,.42,.5,.66,.95,1.2,1.28,1.36,1.44,1.52,1.6,1.68,1.76,2.02,2.7,2.86,2.94,3.02,3.3,3.38,3.46,3.6,3.82,4.12,4.28,4.4,4.72,4.95,5.1,5.18,5.3,5.42,5.55,5.7];
const lgalsLowMG1B = [.03,.12,.2,.28,.36,.74,.82,1.1,1.24,1.32,1.4,1.48,1.56,1.64,1.72,1.82,2.3,2.76,2.9,2.98,3.1,3.2,3.34,3.42,3.52,3.7,3.9,4.3,4.5,4.58,4.8,5,5.22,5.36,5.48,5.62,5.8];
const lgalsLowMG2A = [.24,.32,.58,.74,.82,.9,1.04,1.12,1.86,2.16,2.52,2.6,3.1,3.2,3.7,3.78,3.92,4,4.2,4.36,4.62,4.84,5.06,5.64,5.78,5.9,6];
const lgalsLowMG2B = [.46,.56,.64,.9,.98,1.06,1.18,1.92,2.02,2.44,2.6,2.68,3.6,3.8,3.86,4.05,4.16,4.38,4.7,4.9,5.12,5.3,5.72,5.88,5.96];
const lgalsLowMac2A = [1.9,1.98,2.1,2.24,2.32,2.4,2.48,2.56,4.02,4.1,4.46,4.54,4.78,5.26,5.34];
const lgalsLowMac2B = [.98,1.95,2.05,2.2,2.36,2.44,2.52,2.62,2.8,4,4.08,4.26,4.42,4.64,4.86,5.16,5.4];
const lgalsLowApoeA = [5.95,6.02,6.1,6.16,6.22,6.28,6.34,6.4,6.46,6.52,6.6,6.68,6.85,7.05,7.3];
const lgalsLowApoeB = [5.98,6.06,6.13,6.19,6.25,6.31,6.37,6.43,6.49,6.56,6.64,6.74,6.95,7.03];
const lgalsLowDC = [[3.7,.5],[5.6,.48],[5.75,.5],[3.25,.49]];
const lgalsLowOther = [[7.65,.5],[5.5,.5],[3.05,.5]];
const lgalsLine = [[0,.5],[6.15,.5],[7.65,2.85]];
const lgalsMG1 = [[1.42,.95],[1.8,.95],[1.9,.98],[2,1],[2.1,1.01],[2.2,1.03],[2.22,.99],[2.48,.95],[2.95,.96],[3.02,1.02],[3.07,1.04],[3.12,1],[3.17,1.03],[3.22,.98],[3.28,1.02],[3.35,1],[3.42,1.04],[3.55,1.02],[3.62,.98],[3.7,1.03],[3.78,.99],[3.85,1.03],[3.92,1],[4.12,1.04],[4.2,1],[4.35,.97],[4.55,1.03],[4.66,.99],[4.72,1.02],[4.8,1.04],[4.88,.98],[5,1.02],[5.2,.98],[5.3,1.03],[5.4,1.01],[5.5,.99],[5.56,1.04],[5.65,1.02],[5.72,.98],[5.95,1.03],[6.05,1],[4.88,3.84],[4.51,2.9],[4.62,1.9],[5.95,2.2],[6.05,1.98]];
const lgalsMG2 = [[.55,1],[1.28,1.02],[3.59,3.2],[4.78,2.89],[4.79,2.82],[3.05,2.15],[3.5,2.15],[4.05,2],[4.64,2.05],[4.73,2.04],[4.99,1.98],[5.59,1.96],[3.25,1.02],[3.6,1.04],[3.68,1],[3.82,.98],[3.98,1.03],[4.05,.97],[4.25,1.02],[4.42,.98],[4.62,1.02],[4.7,.97],[5.05,.99],[5.35,1],[5.82,.98],[4.9,1]];
const lgalsApoe = [[6.23,8.4],[6.48,5.7],[6.05,5],[6.03,5.1],[5.65,3.84],[6.37,3.87],[6.46,4.04],[6.1,3.2],[6.41,3],[6.61,2.97],[6.7,2.9],[6.84,2.89],[6.98,3.14],[7.04,3.16],[5.35,1.92],[5.9,2.1],[5.95,2.05],[6,2.15],[6.03,1.95],[6.08,2.1],[6.12,2.18],[6.16,2],[6.2,2.12],[6.24,1.93],[6.28,2.15],[6.32,2.05],[6.36,2.18],[6.4,1.92],[6.44,2.1],[6.48,2.02],[6.52,2.15],[6.56,1.95],[6.6,2.08],[6.64,1.92],[6.7,2.12],[6.75,1.88],[6.8,2.05],[6.85,2.15],[6.9,1.95],[7,2],[7.08,2.1],[4.4,1],[4.6,.97],[4.85,.96],[5,1.04],[5.12,.98],[5.25,1],[5.45,.96],[5.85,.99],[5.9,1.03],[5.94,.96],[5.98,1.01],[6.02,1.05],[6.06,.97],[6.09,1.03],[6.12,.98],[6.16,1.02],[6.2,.96],[6.24,1.04],[6.28,.99],[6.32,1.02],[6.36,.96],[6.4,1.05],[6.44,.99],[6.48,1.03],[6.52,.97],[6.56,1.02],[6.6,1.04],[6.66,.98],[6.72,1],[7,.98],[7.3,1]];
const lgalsMac2 = [[3.35,1.03],[4.6,1.01],[6.02,.99],[5.2,1.03]];
const lgalsTCell = [[.75,.98],[2.68,1.02],[2.68,.99],[2.48,1.02]];
const lgalsDC = [[6,4.2],[2.11,1.97],[2.94,1.91],[3.9,2],[5.47,1.93],[.07,1.02],[1.75,1.01],[1.8,.97],[2.48,1.03],[2.52,.97],[5.8,1.02]];
const lgalsOther = [[1.75,1.03],[2.2,1.02],[5.78,.97]];

// --- panel D: Cstb ---
const cstbLevel05 = .5, cstbLevel1 = 1, cstbLevel2 = 2, cstbLevel3 = 3;
const cstbLowMG1 = [0,.1,.18,.3,.42,.5,.7,.86,.92,1.16,1.3,1.4,1.55,1.66,1.74,2.1,2.46,2.8,3,3.2,3.56,3.66,3.85,4,4.36,4.5,4.62,4.86,5.2,5.3,5.6,7.62];
const cstbLowMG2 = [.05,.14,.24,.36,.47,.62,.78,1,1.24,1.46,1.6,1.82,1.95,2.05,2.22,2.38,2.56,2.72,2.94,3.1,3.3,3.44,3.62,3.76,3.94,4.2,4.44,4.56,4.72,4.96,5.1,5.4,5.52,5.7];
const cstbLowMac2 = [.96,1.1,1.9,2.3,2.5,2.66,3.42,3.98,4.1,4.3,4.7,4.8,5,5.34,5.46];
const cstbLowApoe = [5.6,5.76,5.9,6,6.05,6.12,6.2,6.28,6.36,6.4,6.44,6.48,6.5,6.62,6.8,6.92,7,7.26,7.3];
const cstbLowDC = [3.2,5.62,5.7];
const cstb1MG1 = [0,.05,.1,.16,.22,.28,.34,.46,.5,.7,.76,.84,.92,.98,1.06,1.12,1.18,1.24,1.3,1.36,1.42,1.5,1.56,1.62,1.7,1.86,1.98,2.12,2.24,2.4,2.7,2.8,2.9,3,3.08,3.16,3.24,3.3,3.36,3.42,3.48,3.54,3.6,3.66,3.72,3.78,3.84,3.9,4,4.08,4.14,4.2,4.26,4.32,4.38,4.44,4.5,4.56,4.64,4.78,4.9,5.02,5.12,5.24,5.42,5.5,5.65];
const cstb1MG2 = [.2,.4,1.24,1.4,1.62,1.78,1.9,2,2.08,2.2,2.34,2.48,2.6,2.66,2.76,2.86,2.96,3.2,3.5,3.9,4.12,4.4,4.6,4.7,4.84,5.16,5.3,5.58,5.72,5.88];
const cstb1Mac2 = [1.7,1.84,2.04,2.28,2.42,2.56,2.62,3.96,4.5,4.68,4.82,5,5.08,5.2];
const cstb1Apoe = [5.3,5.46,5.6,5.72,5.82,5.92,6,6.08,6.14,6.2,6.26,6.32,6.38,6.44,6.5,6.56,6.62,6.7,6.78,6.86,7.02,7.04];
const cstb2MG2 = [0,.05,.1,.15,.2,.25,.32,.4,.72,.78,.84,.9,.96,1.02,1.1,1.16,1.22,1.28,1.34,1.4,1.46,1.66,1.72,1.78,1.84,1.9,2,2.06,2.12,2.2,2.26,2.34,2.4,2.46,2.56,2.64,2.72,2.78,2.86,2.94,3.02,3.08,3.18,3.28,3.38,3.46,3.66,3.8,4,4.22,4.36,4.6,5,5.3,5.6,5.88];
const cstb2MG1 = [.02,.08,.46,.56,.62,.68,1.5,1.96,2.16,2.5,2.68,2.9,3.1,3.24,3.42,3.52,3.58,3.64,3.72,3.78,3.86,3.92,4.06,4.12,4.18,4.28,4.42,4.5,4.56,4.66,4.72,4.78,4.84,4.92,5.06,5.14,5.22,5.36,5.44,5.52,5.66,5.74,5.82];
const cstb2Mac2 = [1.02,2.24,3.2,3.9,4.04,4.84,4.94,5.28,5.96];
const cstb2Apoe = [4.4,5.2,5.92,5.98,6.02,6.06,6.1,6.14,6.18,6.22,6.26,6.3,6.34,6.38,6.42,6.46,6.5,6.54,6.58,6.62,6.66,6.84,6.9,6.94];
const cstb3MG2 = [.02,.06,.12,.18,.24,.34,.42,.5,.7,.76,.82,.9,.98,1.06,1.14,1.2,1.28,1.36,1.7,1.76,1.82,1.9,2,2.08,2.14,2.2,2.26,2.34,2.42,2.5,2.6,2.7,2.76,2.82,2.88,2.94,3,3.06,3.12,3.24,3.42,3.5,3.6,3.66,4.5,4.56,4.62,4.7,4.8,5,5.06,5.12,5.42,5.6,5.9];
const cstb3MG1 = [.03,.1,.16,1.78,2.2,2.3,2.55,2.7,4,4.06,4.14,4.74,4.86,4.92,5.2,5.36,5.5,5.8,5.85];
const cstb3Mac2 = [1.62,1.92,2,4.3,5.88,5.96];
const cstb3Apoe = [3.92,3.98,4.22,5.94,6.02,6.08,6.14,6.2,6.26,6.3,6.36,6.42,6.48,6.54,6.62,7,7.04,7.08,7.6];
const cstb3DC = [.5,.92,5.52,6.3,6.38];
const cstbLine = [[0,.5],[1.9,.5],[7.65,1.84]];
const cstbHighMG2 = [[2.35,10.2],[3.08,10.8],[3.01,9.1],[3.63,8.3],[1.93,7.2],[2.83,7.2],[2.28,6.8],[3.46,7.2],[3.71,7.2],[2.33,6],[3,6.2],[3.45,6],[1.89,6.2],[1.92,6.2],[4.28,6],[.04,4.9],[1.2,5.1],[1.27,4.85],[1.34,5.1],[1.63,5.1],[1.76,4.95],[1.92,5],[1.94,4.85],[2.06,5],[2.15,5],[2.33,4.85],[2.87,5.15],[2.92,4.95],[3.15,5.15],[3.42,5],[3.48,5.1],[3.68,5.1],[4.1,5.2],[4.16,5.05],[4.24,5.05],[4.77,4.9],[.04,4],[.08,4],[.24,3.9],[.88,4.1],[1,4],[1.07,3.95],[1.23,3.9],[1.29,4.15],[1.7,4],[1.8,4.1],[2.1,3.9],[2.3,4.05],[2.42,4.1],[2.7,4.1],[2.78,3.9],[3,3.95],[3.15,4.1],[3.2,3.95],[3.3,3.9],[3.42,4],[3.6,4.1],[3.66,4],[4.1,4.1],[5.1,4],[5.2,4.1]];
const cstbHighApoe = [[6.45,12.8],[6.43,8.1],[6.49,7.2],[6,6.2],[6.1,6],[5.98,5.2],[6.02,4.9],[6.18,4.9],[6.64,5],[6.93,5.1],[5.9,4],[6,3.95],[6.13,3.95],[6.38,4],[6.5,4.15],[6.58,4.05],[6.02,4.05]];
const cstbHighMac2 = [[1.75,6.2],[2.58,5.2],[1.87,4.1],[1.9,4.1],[4,4],[4.2,3.95],[5.98,4.1],[4.08,4.15]];
const cstbHighMG1 = [[2.12,4],[2.7,4.15],[3.1,4.05],[3.62,4.15],[4.38,3.95],[4.55,3.95],[4.72,4.2],[4.88,4.05],[5.28,3.95],[5.85,4.05],[5.92,4]];
const lgalsYTicks = [.5, 1, 3, 5];
const cstbYTicks = [1, 3, 10];
const pseudoXTicks = [0, 2, 4, 6, 8];

// --- legends ---
const legendASlots = [[12,23],[101,112],[190,201],[327,338],[418,430],[510,521],[591,602]];
function addLegend(id, slots, rows) {
  const box = document.getElementById(id);
  typeNames.forEach((name, i) => {
    const d = document.createElement('div');
    d.className = 'dot';
    d.style.cssText = `left:${slots[i][0]}px;top:${rows[i]}px;background:${typeColors[i]}`;
    const t = document.createElement('div');
    t.className = 't';
    t.style.cssText = `left:${slots[i][1]}px;top:${rows[i] - 6}px;font-size:10px`;
    t.innerHTML = name;
    box.append(d, t);
  });
}
addLegend('legendA', legendASlots, [12, 12, 12, 12, 12, 12, 12]);
addLegend('legendD', [[12,23],[126,137],[240,251],[13,24],[107,118],[200,211],[284,295]], [12, 12, 12, 39, 39, 39, 39]);

// --- shared options ---
const axisGrey = '#b5b5b5';
function noPadding(s) {
  s.paddingLeft = s.paddingRight = s.paddingTop = s.paddingBottom = 0;
}
function fixedAxis(min, max, tickValues, fmt, size, extra) {
  return Object.assign({
    min, max,
    border: { display: true, color: axisGrey, width: 1 },
    grid: { display: true, drawOnChartArea: false, drawTicks: true, tickLength: 2, color: axisGrey },
    ticks: { font: { size: 5, family: 'Liberation Sans' }, color: '#666', padding: 2, maxRotation: 0, autoSkip: false, callback: fmt },
    afterBuildTicks: s => { s.ticks = tickValues.map(v => ({ value: v })); },
    afterFit: s => { if (s.isHorizontal()) s.height = size; else s.width = size; noPadding(s); }
  }, extra || {});
}
function baseOptions(scales) {
  return {
    responsive: false,
    animation: false,
    events: [],
    layout: { padding: 0 },
    plugins: { legend: { display: false }, tooltip: { enabled: false } },
    scales
  };
}
const nodeNumbers = {
  id: 'nodeNumbers',
  afterDatasetsDraw(chart) {
    const { ctx, scales } = chart;
    ctx.save();
    ctx.fillStyle = '#fff';
    ctx.font = '6px "Liberation Sans"';
    ctx.textAlign = 'center';
    ctx.textBaseline = 'middle';
    nodeLabels.forEach((label, i) => ctx.fillText(label, scales.x.getPixelForValue(nodeX[i]), scales.y.getPixelForValue(nodeY[i])));
    ctx.restore();
  }
};
const trajDataset = w => ({ data: trajX.map((x, i) => ({ x, y: trajY[i] })), showLine: true, borderColor: '#222', borderWidth: w, pointRadius: 0, tension: .3 });
const nodeDataset = () => ({ data: nodeX.map((x, i) => ({ x, y: nodeY[i] })), backgroundColor: '#000', pointRadius: 4.2, pointBorderWidth: 0 });
const cells = (data, color, r) => ({ data, backgroundColor: color, pointRadius: r, pointBorderWidth: 0 });

function compChart(id, datasets, yRange, showY) {
  new Chart(document.getElementById(id), {
    type: 'scatter',
    data: { datasets: [nodeDataset(), ...datasets, trajDataset(showY ? 1.3 : .8)] },
    plugins: [nodeNumbers],
    options: baseOptions({
      x: fixedAxis(-5.1, 2.523, compXTicks, v => v.toFixed(1), 10),
      y: showY ? fixedAxis(yRange[0], yRange[1], compYTicks, v => String(v), 10)
               : Object.assign(fixedAxis(yRange[0], yRange[1], compYTicks, v => String(v), 0), { display: false })
    })
  });
}

// panel A
compChart('aSham', [cells(shamApoe, typeColors[2], 1), cells(shamMac2, typeColors[3], 1), cells(shamMG1, typeColors[0], 1.2), cells(shamMG2, typeColors[1], 1.3)], [-1.125, 2.475], true);
compChart('aBcas', [cells(bcasOther, typeColors[6], 1), cells(bcasDC, typeColors[5], 1), cells(bcasTCell, typeColors[4], 1.2), cells(bcasMac2, typeColors[3], 1), cells(bcasApoe, typeColors[2], 1.1), cells(bcasMG2, typeColors[1], 1.4), cells(bcasMG1, typeColors[0], 1.1)], [-1.125, 2.475], false);

// panel B: same cells, coloured by pseudotime bin
const pseudoColor = ctx => {
  const x = ctx.raw ? ctx.raw[0] : 0;
  const bin = pseudoBreaks.findIndex(b => x < b);
  return pseudoColors[bin < 0 ? pseudoColors.length - 1 : bin];
};
const shamAll = [...shamMac2, ...shamMG1, ...shamMG2, ...shamApoe];
const bcasAll = [...bcasMG1, ...bcasMG2, ...bcasApoe, ...bcasMac2, ...bcasTCell, ...bcasDC, ...bcasOther];
compChart('bSham', [cells(shamAll, pseudoColor, 1.2)], [-1.086, 2.486], true);
compChart('bBcas', [cells(bcasAll, pseudoColor, 1.3)], [-1.086, 2.486], false);

// pseudotime key
new Chart(document.getElementById('pseudoLegend'), {
  type: 'bar',
  data: { labels: [''], datasets: pseudoLegendColors.map((c, i) => ({ data: [[pseudoLegendLevels[i], pseudoLegendLevels[i + 1]]], backgroundColor: c, barPercentage: 1, categoryPercentage: 1, grouped: false })) },
  options: Object.assign(baseOptions({
    x: {
      min: -.9, max: 8.6,
      border: { display: false }, grid: { display: false, drawTicks: false },
      ticks: { font: { size: 4.5, family: 'Liberation Sans' }, color: '#444', padding: 1, maxRotation: 0, callback: v => v },
      afterBuildTicks: s => { s.ticks = pseudoLegendTicks.map(v => ({ value: v })); },
      title: { display: true, text: 'Pseudotime', font: { size: 4.5, family: 'Liberation Sans' }, color: '#444', padding: 0 },
      afterFit: s => { s.height = 13; noPadding(s); }
    },
    y: { display: false }
  }), { indexAxis: 'y' })
});

// panel C
function heatColor(v) {
  let i = heatStops.findIndex(s => v <= s);
  if (i <= 0) return heatStopColors[0];
  const f = (v - heatStops[i - 1]) / (heatStops[i] - heatStops[i - 1]);
  const rgb = h => [1, 3, 5].map(k => parseInt(h.substr(k, 2), 16));
  const a = rgb(heatStopColors[i - 1]), b = rgb(heatStopColors[i]);
  return `rgb(${a.map((c, k) => Math.round(c + (b[k] - c) * f)).join(',')})`;
}
function heatBlock(id, genes, rows) {
  new Chart(document.getElementById(id), {
    type: 'bar',
    data: {
      labels: genes,
      datasets: heatColumns.map((w, col) => ({
        data: rows.map(() => w),
        backgroundColor: rows.map(r => heatColor(r[col])),
        barPercentage: 1, categoryPercentage: 1, borderWidth: 0
      }))
    },
    options: Object.assign(baseOptions({
      x: { stacked: true, min: 0, max: 138, display: false },
      y: {
        stacked: true, position: 'right',
        border: { display: false }, grid: { display: false, drawTicks: false },
        ticks: { font: { size: 7.5, style: 'italic', family: 'Liberation Sans' }, color: '#333', padding: 4, autoSkip: false },
        afterFit: s => { s.width = 45; noPadding(s); }
      }
    }), { indexAxis: 'y' })
  });
}
heatBlock('heat4', cluster4Genes, cluster4Rows);
heatBlock('heat1', cluster1Genes, cluster1Rows);
heatBlock('heat2', cluster3Genes, cluster3Rows);
heatBlock('heat5', cluster5Genes, cluster5Rows);
heatBlock('heat3', cluster2Genes, cluster2Rows);

new Chart(document.getElementById('colorBar'), {
  type: 'bar',
  data: {
    labels: [''],
    datasets: colorBarLevels.slice(1).map((top, i) => ({
      data: [[colorBarLevels[i], top]],
      backgroundColor: heatColor((colorBarLevels[i] + top) / 2),
      barPercentage: 1, categoryPercentage: 1, grouped: false
    }))
  },
  options: baseOptions({
    x: { display: false },
    y: {
      position: 'right', min: -3.1, max: 3.1,
      border: { display: false }, grid: { display: false, drawTicks: false },
      ticks: { font: { size: 8, family: 'Liberation Sans' }, color: '#333', padding: 4, callback: v => String(v).replace('-', '\u2212') },
      afterBuildTicks: s => { s.ticks = colorBarTicks.map(v => ({ value: v })); },
      afterFit: s => { s.width = 13; noPadding(s); }
    }
  })
});

const dendroLine = (data, color, w) => ({ data, showLine: true, borderColor: color, borderWidth: w, pointRadius: 0, spanGaps: false });
new Chart(document.getElementById('dendro'), {
  type: 'scatter',
  data: { datasets: [dendroLine(dendroDark, '#555', .8), dendroLine(dendroLight, '#c8c8c8', 2)] },
  options: baseOptions({
    x: { display: false, min: 0, max: 25, reverse: true },
    y: { display: false, min: 0, max: 433, reverse: true }
  })
});

// panel D
const atLevel = (xs, level) => xs.map(x => [x, level]);
const dots = (data, color) => ({ data, backgroundColor: color, pointRadius: 1.8, pointBorderWidth: 0 });
const band = (data, color) => ({ data, backgroundColor: color, pointRadius: 2.2, pointBorderWidth: 0 });
const fitLine = data => ({ data, showLine: true, borderColor: '#333', borderWidth: 1, pointRadius: 0 });
function logAxis(min, max, tickValues, fmt) {
  return fixedAxis(min, max, tickValues, fmt, 10, { type: 'logarithmic' });
}
new Chart(document.getElementById('lgals3'), {
  type: 'scatter',
  data: {
    datasets: [
      fitLine(lgalsLine),
      dots(lgalsDC, typeColors[5]), dots(lgalsOther, typeColors[6]), dots(lgalsTCell, typeColors[4]),
      dots(lgalsApoe, typeColors[2]),
      band(atLevel(lgalsLowApoeA, lgalsLowLevels[0]), typeColors[2]), band(atLevel(lgalsLowApoeB, lgalsLowLevels[1]), typeColors[2]),
      dots(lgalsMac2, typeColors[3]),
      band(atLevel(lgalsLowMac2A, lgalsLowLevels[0]), typeColors[3]), band(atLevel(lgalsLowMac2B, lgalsLowLevels[1]), typeColors[3]),
      dots(lgalsLowDC, typeColors[5]), dots(lgalsLowOther, typeColors[0]),
      dots(lgalsMG2, typeColors[1]),
      band(atLevel(lgalsLowMG2A, lgalsLowLevels[0]), typeColors[1]), band(atLevel(lgalsLowMG2B, lgalsLowLevels[1]), typeColors[1]),
      dots(lgalsMG1, typeColors[0]),
      band(atLevel(lgalsLowMG1A, lgalsLowLevels[0]), typeColors[0]), band(atLevel(lgalsLowMG1B, lgalsLowLevels[1]), typeColors[0])
    ]
  },
  options: baseOptions({
    x: fixedAxis(-.385, 8.03, pseudoXTicks, v => String(v), 10),
    y: logAxis(.398, 9.6, lgalsYTicks, v => v.toFixed(1))
  })
});
new Chart(document.getElementById('cstb'), {
  type: 'scatter',
  data: {
    datasets: [
      fitLine(cstbLine),
      dots(atLevel(cstb3DC, cstbLevel3), typeColors[5]), dots(atLevel(cstbLowDC, cstbLevel05), typeColors[5]),
      dots(cstbHighApoe, typeColors[2]), dots(atLevel(cstb3Apoe, cstbLevel3), typeColors[2]), band(atLevel(cstb2Apoe, cstbLevel2), typeColors[2]), band(atLevel(cstb1Apoe, cstbLevel1), typeColors[2]), band(atLevel(cstbLowApoe, cstbLevel05), typeColors[2]),
      dots(cstbHighMac2, typeColors[3]), dots(atLevel(cstb3Mac2, cstbLevel3), typeColors[3]), band(atLevel(cstb2Mac2, cstbLevel2), typeColors[3]), band(atLevel(cstb1Mac2, cstbLevel1), typeColors[3]), band(atLevel(cstbLowMac2, cstbLevel05), typeColors[3]),
      dots(cstbHighMG2, typeColors[1]), dots(atLevel(cstb3MG2, cstbLevel3), typeColors[1]), band(atLevel(cstb2MG2, cstbLevel2), typeColors[1]), band(atLevel(cstb1MG2, cstbLevel1), typeColors[1]), band(atLevel(cstbLowMG2, cstbLevel05), typeColors[1]),
      dots(cstbHighMG1, typeColors[0]), dots(atLevel(cstb3MG1, cstbLevel3), typeColors[0]), band(atLevel(cstb2MG1, cstbLevel2), typeColors[0]), band(atLevel(cstb1MG1, cstbLevel1), typeColors[0]), band(atLevel(cstbLowMG1, cstbLevel05), typeColors[0])
    ]
  },
  options: baseOptions({
    x: fixedAxis(-.38, 8.03, pseudoXTicks, v => String(v), 10),
    y: logAxis(.405, 15.2, cstbYTicks, v => String(v))
  })
});
</script>
</body>
</html>
